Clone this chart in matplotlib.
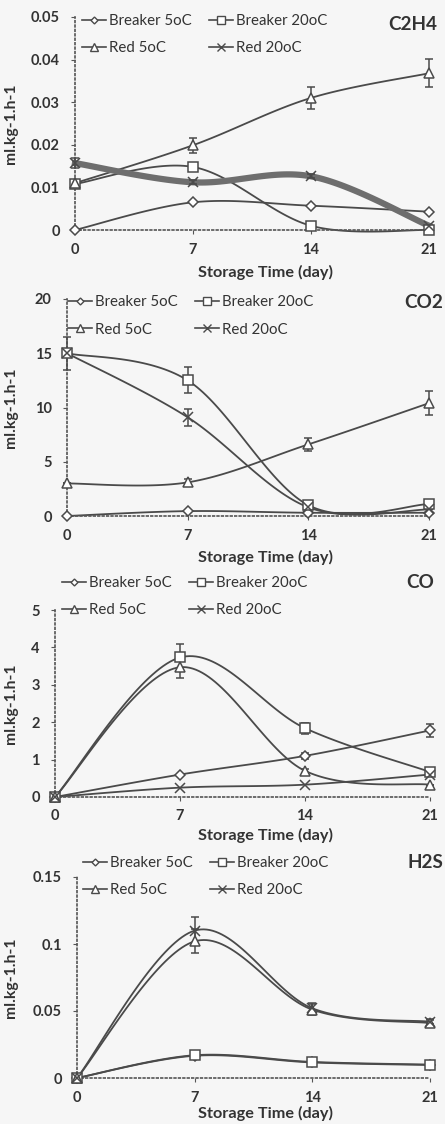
import numpy as np
import matplotlib
matplotlib.use("Agg")
import matplotlib.pyplot as plt
from matplotlib.lines import Line2D
from matplotlib.font_manager import FontProperties

plt.rcParams['font.family'] = ['Lato', 'DejaVu Sans']

days = [0, 7, 14, 21]
series = ['Breaker 5oC', 'Breaker 20oC', 'Red 5oC', 'Red 20oC']

# C2H4
c2h4_b5 = [0.0, 0.0065, 0.0057, 0.0043]
c2h4_b20 = [0.0108, 0.0148, 0.001, 0.0]
c2h4_r5 = [0.011, 0.0199, 0.031, 0.0368]
c2h4_r20 = [0.0157, 0.0112, 0.0126, 0.001]
c2h4_err_b20 = [0.0, 0.001, 0.0005, 0.0]
c2h4_err_r5 = [0.0, 0.0018, 0.0025, 0.0033]
c2h4_err_r20 = [0.0012, 0.0005, 0.0005, 0.0]

# CO2
co2_b5 = [0.0, 0.45, 0.3, 0.3]
co2_b20 = [15.0, 12.5, 1.0, 1.1]
co2_r5 = [3.0, 3.1, 6.6, 10.4]
co2_r20 = [15.0, 9.1, 0.8, 0.6]
co2_err_b20 = [1.5, 1.2, 0.2, 0.1]
co2_err_r5 = [0.0, 0.3, 0.6, 1.1]
co2_err_r20 = [0.0, 0.8, 0.1, 0.0]

# CO
co_b5 = [0.0, 0.6, 1.1, 1.78]
co_b20 = [0.0, 3.73, 1.84, 0.67]
co_r5 = [0.0, 3.47, 0.7, 0.33]
co_r20 = [0.0, 0.25, 0.33, 0.6]
co_err_b5 = [0.0, 0.0, 0.08, 0.17]
co_err_b20 = [0.0, 0.35, 0.15, 0.05]
co_err_r5 = [0.0, 0.3, 0.05, 0.0]

# H2S
h2s_b5 = [0.0, 0.0166, 0.0116, 0.0097]
h2s_b20 = [0.0, 0.017, 0.012, 0.010]
h2s_r5 = [0.0, 0.102, 0.051, 0.041]
h2s_r20 = [0.0, 0.110, 0.052, 0.042]
h2s_err_r5 = [0.0, 0.009, 0.004, 0.002]
h2s_err_r20 = [0.0, 0.01, 0.004, 0.002]

zero = [0.0, 0.0, 0.0, 0.0]

markers = ['D', 's', '^', 'x']
msizes = [5, 7, 7, 7]
ink = '#4a4a4a'
txt = '#333333'

H = 1124.0
W = 445.0

fig = plt.figure(figsize=(4.45, 11.24), dpi=100)
fig.patch.set_facecolor('#f6f6f6')
renderer = fig.canvas.get_renderer()


def measure(text, size, weight='normal'):
    fp = FontProperties(family=['Lato', 'DejaVu Sans'], size=size, weight=weight)
    w, h, d = renderer.get_text_width_height_descent(text, fp, ismath=False)
    return w, h


def fit(text, target_px, weight='normal'):
    # font size that gives the text the width it has in the scan
    w, h = measure(text, 10, weight)
    return 10 * target_px / w


leg_fs = fit('Breaker 5oC', 83)
tick_fs = fit('0.05', 29, 'bold')
xlab_fs = fit('Storage Time (day)', 135, 'bold')
ylab_fs = fit('ml.kg-1.h-1', 80, 'bold')
title_fs = fit('C2H4', 49, 'bold')

leg_em = leg_fs / 72 * 100
row_h = max(measure('Breaker 5oC', leg_fs)[1], measure('lp', leg_fs)[1])


def smooth(x, y, n=40):
    # excel-like smoothed line (bezier through the points)
    x = np.asarray(x, float)
    y = np.asarray(y, float)
    px = np.concatenate([[x[0]], x, [x[-1]]])
    py = np.concatenate([[y[0]], y, [y[-1]]])
    xs, ys = [], []
    t = np.linspace(0, 1, n)
    for i in range(1, len(px) - 2):
        p0, p1, p2, p3 = (np.array([px[j], py[j]]) for j in range(i - 1, i + 3))
        c1 = p1 + (p2 - p0) / 6
        c2 = p2 - (p3 - p1) / 6
        pts = ((1 - t) ** 3)[:, None] * p1 + (3 * (1 - t) ** 2 * t)[:, None] * c1 \
            + (3 * (1 - t) * t ** 2)[:, None] * c2 + (t ** 3)[:, None] * p2
        xs.extend(pts[:, 0])
        ys.extend(pts[:, 1])
    return np.array(xs), np.array(ys)


def panel(rect, vals, errs, ymax, ystep, yfmt, title, leg_xy, title_xy, xlab_off, thick=None):
    # rect in pixels: left, axis bottom, right, axis top (from top of page)
    l, b, r, t = rect
    ax = fig.add_axes([l / W, 1 - b / H, (r - l) / W, (b - t) / H])
    ax.set_facecolor('none')
    for i, (v, e) in enumerate(zip(vals, errs)):
        lw = 1.3
        col = ink
        if thick == i:
            lw = 4.5
            col = '#6e6e6e'
        sx, sy = smooth(days, v)
        ax.plot(sx, sy, color=col, lw=lw, clip_on=False, zorder=2)
        if any(e):
            ax.errorbar(days, v, yerr=e, fmt='none', ecolor=ink, elinewidth=1.1,
                        capsize=3, capthick=1.1, clip_on=False, zorder=3)
        ax.plot(days, v, ls='none', marker=markers[i], ms=msizes[i],
                mfc='white' if markers[i] != 'x' else ink, mec=ink, mew=1.1,
                clip_on=False, zorder=4)
    ax.set_xlim(0, 21)
    ax.set_ylim(0, ymax)
    ax.set_xticks(days)
    ticks = np.arange(0, ymax + ystep / 2, ystep)
    ax.set_yticks(ticks)
    ax.set_yticklabels([yfmt(tk) for tk in ticks])
    for s in ['top', 'right']:
        ax.spines[s].set_visible(False)
    for s in ['left', 'bottom']:
        ax.spines[s].set_linestyle(':')
        ax.spines[s].set_color('#555555')
        ax.spines[s].set_linewidth(1.2)
    ax.tick_params(axis='y', length=3, color='#555555', labelsize=tick_fs, pad=8)
    ax.tick_params(axis='x', length=3, color='#555555', labelsize=tick_fs, pad=6)
    for lab in ax.get_xticklabels() + ax.get_yticklabels():
        lab.set_fontweight('bold')
        lab.set_color(txt)
    ax.set_xlabel('Storage Time (day)', fontsize=xlab_fs, fontweight='bold', color=txt)
    # label sits a bit right of the axis centre, under the middle of the page
    ax.xaxis.set_label_coords(265 / W, 1 - (b + xlab_off) / H, transform=fig.transFigure)
    ax.set_ylabel('ml.kg-1.h-1', fontsize=ylab_fs, fontweight='bold', color=txt)
    ax.yaxis.set_label_coords(18 / W, 1 - (b + t) / 2 / H, transform=fig.transFigure)

    handles = []
    for i in range(4):
        handles.append(Line2D([0], [0], color=ink, lw=1.2, marker=markers[i],
                              ms=msizes[i] - 1.5, mfc='white', mec=ink, mew=1))
    order = [0, 2, 1, 3]
    top = leg_xy[1] - row_h / 2
    ax.legend([handles[k] for k in order], [series[k] for k in order], ncol=2,
              loc='upper left', bbox_to_anchor=(leg_xy[0] / W, 1 - top / H),
              bbox_transform=fig.transFigure, frameon=False, fontsize=leg_fs,
              handlelength=24 / leg_em, handletextpad=3 / leg_em,
              columnspacing=17 / leg_em, labelspacing=(27.5 - row_h) / leg_em,
              borderaxespad=0, borderpad=0, labelcolor=txt)
    fig.text(title_xy[0] / W, 1 - title_xy[1] / H, title, fontsize=title_fs,
             fontweight='bold', color=txt, ha='right', va='center')
    return ax


panel((75, 230, 429, 17),
      [c2h4_b5, c2h4_b20, c2h4_r5, c2h4_r20],
      [zero, c2h4_err_b20, c2h4_err_r5, c2h4_err_r20],
      0.05, 0.01, lambda t: '0' if t == 0 else '%.2f' % t, 'C2H4',
      (82, 21), (437, 25), 35, thick=3)

panel((67, 516, 429, 299),
      [co2_b5, co2_b20, co2_r5, co2_r20],
      [zero, co2_err_b20, co2_err_r5, co2_err_r20],
      20, 5, lambda t: '%d' % t, 'CO2',
      (68, 302), (443, 302), 34)

panel((55, 797, 430, 610),
      [co_b5, co_b20, co_r5, co_r20],
      [co_err_b5, co_err_b20, co_err_r5, zero],
      5, 1, lambda t: '%d' % t, 'CO',
      (62, 583), (434, 583), 31)

panel((77, 1078, 430, 877),
      [h2s_b5, h2s_b20, h2s_r5, h2s_r20],
      [zero, zero, h2s_err_r5, h2s_err_r20],
      0.15, 0.05, lambda t: '0' if t == 0 else ('%.2f' % t).rstrip('0'), 'H2S',
      (83, 863), (443, 863), 28)

fig.savefig('out.png', dpi=100, facecolor=fig.get_facecolor())
